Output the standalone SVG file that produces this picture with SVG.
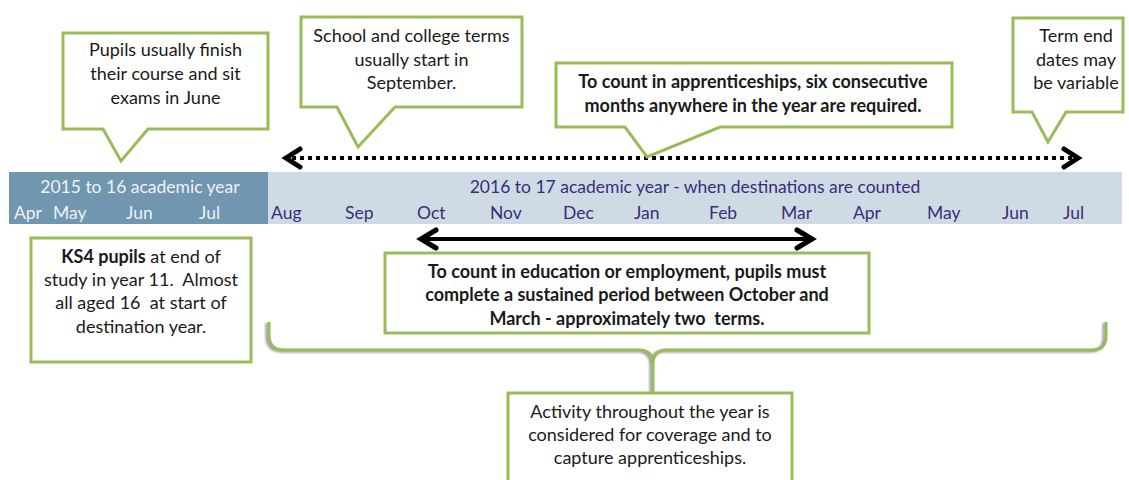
<svg xmlns="http://www.w3.org/2000/svg" width="1129" height="480" viewBox="0 0 1129 480">
  <style>
    .box { fill: #ffffff; stroke: #9bbb59; stroke-width: 3; }
    .txt { font-family: Lato, "Open Sans", "Liberation Sans", sans-serif; font-size: 18px; fill: #1a1a1a; text-anchor: middle; white-space: pre; }
    .bold { font-weight: bold; }
    .band { font-family: Lato, "Open Sans", "Liberation Sans", sans-serif; font-size: 17.5px; }
    .dark-t { fill: #eef2f6; }
    .light-t { fill: #3a2c7c; }
    .arrow { fill: none; stroke: #000000; stroke-width: 4; }
    .head { fill: none; stroke: #000000; stroke-width: 5; stroke-linecap: round; stroke-linejoin: miter; }
  </style>
  <defs>
    <filter id="soft" x="-5%" y="-20%" width="110%" height="140%">
      <feGaussianBlur stdDeviation="1"/>
    </filter>
  </defs>

  <rect x="0" y="0" width="1129" height="480" fill="#ffffff"/>

  <!-- timeline band -->
  <g id="timeline">
    <rect x="9" y="172" width="259" height="52" fill="#7196b0"/>
    <rect x="268" y="172" width="854" height="52" fill="#cfdbe4"/>
    <text class="band dark-t" x="140" y="193" text-anchor="middle">2015 to 16 academic year</text>
    <text class="band light-t" x="695" y="193" text-anchor="middle">2016 to 17 academic year - when destinations are counted</text>
    <g class="band dark-t">
      <text x="14" y="219">Apr</text>
      <text x="53" y="219">May</text>
      <text x="126" y="219">Jun</text>
      <text x="199" y="219">Jul</text>
    </g>
    <g class="band light-t">
      <text x="271" y="219">Aug</text>
      <text x="345" y="219">Sep</text>
      <text x="417" y="219">Oct</text>
      <text x="490" y="219">Nov</text>
      <text x="563" y="219">Dec</text>
      <text x="634" y="219">Jan</text>
      <text x="709" y="219">Feb</text>
      <text x="781" y="219">Mar</text>
      <text x="853" y="219">Apr</text>
      <text x="927" y="219">May</text>
      <text x="1002" y="219">Jun</text>
      <text x="1063" y="219">Jul</text>
    </g>
  </g>

  <!-- connectors: span arrows and the coverage brace -->
  <g id="connectors">
    <line class="arrow" x1="292" y1="158" x2="1072" y2="158" stroke-dasharray="4 4"/>
    <polyline class="head" points="300,149 286,158 300,167"/>
    <polyline class="head" points="1064,149 1078,158 1064,167"/>

    <line class="arrow" x1="422" y1="239" x2="810" y2="239"/>
    <polyline class="head" points="436,230 421,239 436,248"/>
    <polyline class="head" points="797,230 812,239 797,248"/>

    <g id="brace" fill="none" stroke-width="3">
      <path d="M269,322 V335 Q269,350 284,350 H639 Q653,350 653,364 V392 M653,392 V364 Q653,350 667,350 H1092 Q1106,350 1106,336 V322"
            stroke="#7f7f7f" transform="translate(-2,1)" filter="url(#soft)" opacity="0.8"/>
      <path d="M269,322 V335 Q269,350 284,350 H639 Q653,350 653,364 V392 M653,392 V364 Q653,350 667,350 H1092 Q1106,350 1106,336 V322"
            stroke="#9bbb59"/>
    </g>
  </g>

  <g id="exams-callout">
    <path class="box" d="M63,33 H268 V129 H148 L121,161 L103,129 H63 Z"/>
    <text class="txt" x="165.5" y="56">Pupils usually finish</text>
    <text class="txt" x="165.5" y="80">their course and sit</text>
    <text class="txt" x="165.5" y="104">exams in June</text>
  </g>

  <g id="terms-callout">
    <path class="box" d="M301,17 H522 V107 H395 L358,147 L337,107 H301 Z"/>
    <text class="txt" x="411.5" y="42">School and college terms</text>
    <text class="txt" x="411.5" y="66">usually start in</text>
    <text class="txt" x="411.5" y="89">September.</text>
  </g>

  <g id="apprenticeship-callout">
    <path class="box" d="M556,63 H952 V127 H720 L647,157 L625,127 H556 Z"/>
    <text class="txt bold" x="753" y="88">To count in apprenticeships, six consecutive</text>
    <text class="txt bold" x="753" y="112">months anywhere in the year are required.</text>
  </g>

  <g id="term-end-callout">
    <path class="box" d="M1013,18 H1123 V112 H1066 L1048,142 L1032,112 H1013 Z"/>
    <text class="txt" x="1076" y="42">Term end</text>
    <text class="txt" x="1076" y="66">dates may</text>
    <text class="txt" x="1076" y="89">be variable</text>
  </g>

  <g id="ks4-box">
    <rect class="box" x="31" y="238" width="220" height="124"/>
    <text class="txt" x="141" y="263"><tspan class="bold">KS4 pupils</tspan> at end of</text>
    <text class="txt" x="141" y="286">study in year 11.  Almost</text>
    <text class="txt" x="141" y="309">all aged 16  at start of</text>
    <text class="txt" x="141" y="333">destination year.</text>
  </g>

  <g id="sustained-box">
    <rect class="box" x="385" y="253" width="484" height="80"/>
    <text class="txt bold" x="627" y="278">To count in education or employment, pupils must</text>
    <text class="txt bold" x="627" y="301">complete a sustained period between October and</text>
    <text class="txt bold" x="627" y="325">March - approximately two  terms.</text>
  </g>

  <g id="coverage-box">
    <rect class="box" x="508" y="393" width="284" height="110"/>
    <text class="txt" x="650" y="418">Activity throughout the year is</text>
    <text class="txt" x="650" y="441">considered for coverage and to</text>
    <text class="txt" x="650" y="464">capture apprenticeships.</text>
  </g>
</svg>
